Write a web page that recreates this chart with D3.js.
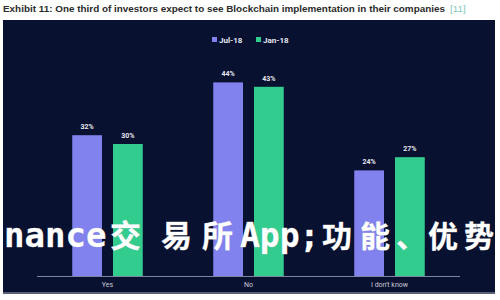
<!DOCTYPE html>
<html><head><meta charset="utf-8">
<script src="https://cdn.jsdelivr.net/npm/d3@7/dist/d3.min.js"></script>
<style>html,body{margin:0;padding:0;background:#fff;}svg{display:block;}</style>
</head><body>
<script>
const categories = ["Yes", "No", "I don't know"];
const seriesNames = ["Jul-18", "Jan-18"];
const jul18 = [32, 44, 24];
const jan18 = [30, 43, 27];
const yTicks = [0, 10, 20, 30, 40, 50];
const colors = ["#8282ee", "#33cc8f"];

const W = 500, H = 300;
const svg = d3.select("body").append("svg").attr("width", W).attr("height", H);

// title
svg.append("text").attr("x", 3).attr("y", 12)
  .attr("font-family", "Liberation Sans, Arial, sans-serif").attr("font-weight", "bold")
  .attr("font-size", 9.8).attr("fill", "#2b2b2b")
  .attr("textLength", 442).attr("lengthAdjust", "spacingAndGlyphs")
  .text("Exhibit 11: One third of investors expect to see Blockchain implementation in their companies");
svg.append("text").attr("x", 450).attr("y", 12)
  .attr("font-family", "Liberation Sans, Arial, sans-serif").attr("font-size", 9.8)
  .attr("fill", "#7fc7b8").text("[11]");

// panel
svg.append("rect").attr("x", 3).attr("y", 20).attr("width", 492).attr("height", 274)
  .attr("fill", "#08112f");
svg.append("rect").attr("x", 3).attr("y", 292).attr("width", 492).attr("height", 2)
  .attr("fill", "#5b6078");

const x0 = d3.scaleBand().domain(categories).range([37, 460]).paddingInner(0.5).paddingOuter(0.25);
const x1 = d3.scaleBand().domain(seriesNames).range([0, x0.bandwidth()]).paddingInner(0.27);
const y = d3.scaleLinear().domain([0, d3.max(yTicks)]).range([276, 56]);

const data = categories.map((c, i) => ({cat: c, vals: [
  {s: seriesNames[0], v: jul18[i], c: colors[0]},
  {s: seriesNames[1], v: jan18[i], c: colors[1]}]}));

const g = svg.append("g");
const grp = g.selectAll("g.cat").data(data).join("g")
  .attr("transform", d => `translate(${x0(d.cat)},0)`);
grp.selectAll("rect").data(d => d.vals).join("rect")
  .attr("x", d => x1(d.s)).attr("width", x1.bandwidth())
  .attr("y", d => y(d.v)).attr("height", d => y(0) - y(d.v))
  .attr("fill", d => d.c);
grp.selectAll("text").data(d => d.vals).join("text")
  .attr("x", d => x1(d.s) + x1.bandwidth() / 2).attr("y", d => y(d.v) - 6)
  .attr("text-anchor", "middle").attr("font-family", "Roboto, sans-serif")
  .attr("font-size", 7).attr("font-weight", "bold").attr("fill", "#e8e8f2")
  .text(d => d.v + "%");

// x axis
const xAxis = svg.append("g").attr("transform", `translate(0,${y(0)})`)
  .call(d3.axisBottom(x0).tickSize(0).tickPadding(6));
xAxis.select(".domain").attr("stroke", "#7d84a0").attr("stroke-width", 1)
  .attr("d", "M37,0.5H460");
xAxis.selectAll("text").attr("font-family", "Roboto, sans-serif").attr("font-size", 7)
  .attr("fill", "#c9cbd8");

// legend
const legend = svg.append("g");
const lx = [212, 256];
seriesNames.forEach((s, i) => {
  legend.append("rect").attr("x", lx[i]).attr("y", 37).attr("width", 5).attr("height", 5).attr("fill", colors[i]);
  legend.append("text").attr("x", lx[i] + 7).attr("y", 42.5).attr("font-family", "Roboto, sans-serif")
    .attr("font-size", 8).attr("font-weight", "bold").attr("fill", "#e6e8f4").text(s);
});

// overlay text
const ov = svg.append("text").attr("y", 247).attr("fill", "#ffffff").attr("font-weight", "bold")
  .style("paint-order", "stroke").attr("stroke", "#c8c8d0").attr("stroke-width", 0.4);
const mono = "DejaVu Sans Mono, monospace", cjk = "Noto Sans CJK SC, sans-serif";
const parts = [
  ["nance", 4, mono, 34], ["交", 110, cjk, 31], ["易", 161, cjk, 31], ["所", 202, cjk, 31],
  ["App;", 240, mono, 33], ["功", 322, cjk, 30], ["能", 360, cjk, 30], ["、", 396, cjk, 30],
  ["优", 428, cjk, 30], ["势", 464, cjk, 30]
];
parts.forEach(p => ov.append("tspan").attr("x", p[1]).attr("font-family", p[2]).attr("font-size", p[3]).text(p[0]));
</script>
</body></html>
